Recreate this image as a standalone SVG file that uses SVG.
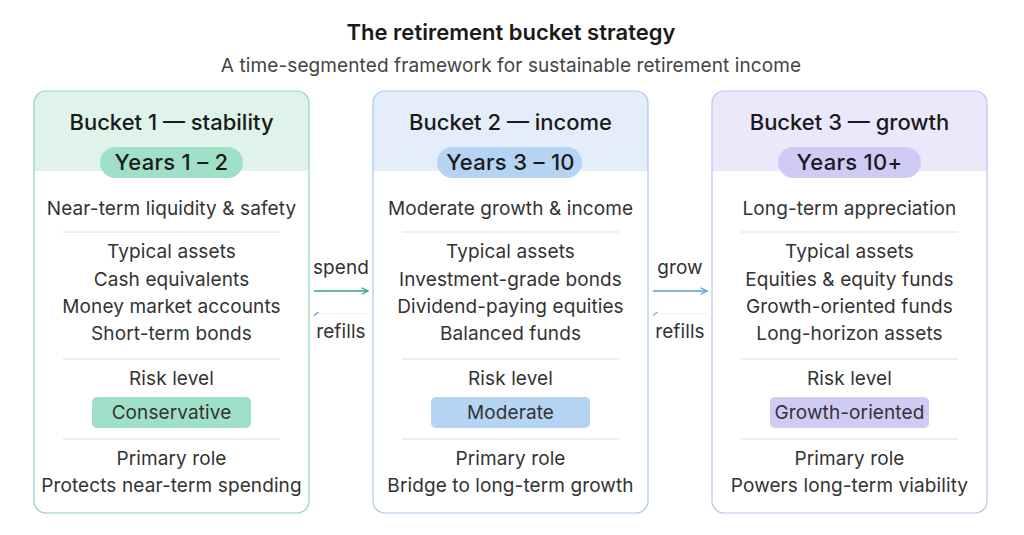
<svg xmlns="http://www.w3.org/2000/svg" width="1024" height="535" viewBox="0 0 1024 535">
<style>
text{font-family:Inter,"Noto Sans","Liberation Sans",sans-serif;text-anchor:middle}
.title{font-size:22px;font-weight:600;fill:#1a1a1a}
.sub{font-size:19px;fill:#444;letter-spacing:0.1px}
.head{font-size:22px;font-weight:500;fill:#1a1a1a}
.pill{font-size:22px;font-weight:500;fill:#1a1a1a;letter-spacing:0.3px}
.body{font-size:19px;fill:#333;letter-spacing:0.1px}
.lbl{font-size:19px;fill:#333;letter-spacing:0.1px}
.div{stroke-width:1}
</style>
<defs>
<marker id="ag" viewBox="0 0 10 10" refX="9" refY="5" markerWidth="8" markerHeight="8" orient="auto" markerUnits="userSpaceOnUse"><path d="M1,1 L9,5 L1,9" fill="none" stroke="#3aa57a" stroke-width="1.6"/></marker>
<marker id="ab" viewBox="0 0 10 10" refX="9" refY="5" markerWidth="8" markerHeight="8" orient="auto" markerUnits="userSpaceOnUse"><path d="M1,1 L9,5 L1,9" fill="none" stroke="#5a9be0" stroke-width="1.6"/></marker>
<clipPath id="c1"><rect x="34" y="91" width="275" height="422" rx="12"/></clipPath>
<clipPath id="c2"><rect x="373" y="91" width="275" height="422" rx="12"/></clipPath>
<clipPath id="c3"><rect x="712" y="91" width="275" height="422" rx="12"/></clipPath>
</defs>
<rect width="1024" height="535" fill="#fff"/>
<text class="title" x="511" y="40">The retirement bucket strategy</text>
<text class="sub" x="511" y="72">A time-segmented framework for sustainable retirement income</text>

<g id="bucket1">
<rect x="34" y="91" width="275" height="422" rx="12" fill="#fff"/>
<rect x="34" y="91" width="275" height="80" fill="#dff3eb" clip-path="url(#c1)"/>
<rect x="34" y="91" width="275" height="422" rx="12" fill="none" stroke="#92d5b8" stroke-width="1.2"/>
<text class="head" x="171.5" y="130">Bucket 1 — stability</text>
<rect x="100" y="147" width="143" height="31" rx="15.5" fill="#a0e0c8"/>
<text class="pill" x="171.5" y="170">Years 1 – 2</text>
<text class="body" x="171.5" y="215">Near-term liquidity &amp; safety</text>
<line class="div" x1="63" y1="232" x2="280" y2="232" stroke="#bfe8d6"/>
<text class="body" x="171.5" y="258">Typical assets</text>
<text class="body" x="171.5" y="286">Cash equivalents</text>
<text class="body" x="171.5" y="313">Money market accounts</text>
<text class="body" x="171.5" y="340">Short-term bonds</text>
<line class="div" x1="63" y1="359" x2="280" y2="359" stroke="#bfe8d6"/>
<text class="body" x="171.5" y="385">Risk level</text>
<rect x="92" y="397" width="159" height="31" rx="5" fill="#a0e0c8"/>
<text class="body" x="171.5" y="419">Conservative</text>
<line class="div" x1="63" y1="439" x2="280" y2="439" stroke="#bfe8d6"/>
<text class="body" x="171.5" y="465">Primary role</text>
<text class="body" x="171.5" y="492">Protects near-term spending</text>
</g>

<g id="bucket2">
<rect x="373" y="91" width="275" height="422" rx="12" fill="#fff"/>
<rect x="373" y="91" width="275" height="80" fill="#e3eefa" clip-path="url(#c2)"/>
<rect x="373" y="91" width="275" height="422" rx="12" fill="none" stroke="#a9c9ee" stroke-width="1.2"/>
<text class="head" x="510.5" y="130">Bucket 2 — income</text>
<rect x="437" y="147" width="145" height="31" rx="15.5" fill="#b5d3f2"/>
<text class="pill" x="510.5" y="170">Years 3 – 10</text>
<text class="body" x="510.5" y="215">Moderate growth &amp; income</text>
<line class="div" x1="402" y1="232" x2="619" y2="232" stroke="#cfe1f5"/>
<text class="body" x="510.5" y="258">Typical assets</text>
<text class="body" x="510.5" y="286">Investment-grade bonds</text>
<text class="body" x="510.5" y="313">Dividend-paying equities</text>
<text class="body" x="510.5" y="340">Balanced funds</text>
<line class="div" x1="402" y1="359" x2="619" y2="359" stroke="#cfe1f5"/>
<text class="body" x="510.5" y="385">Risk level</text>
<rect x="431" y="397" width="159" height="31" rx="5" fill="#b5d3f2"/>
<text class="body" x="510.5" y="419">Moderate</text>
<line class="div" x1="402" y1="439" x2="619" y2="439" stroke="#cfe1f5"/>
<text class="body" x="510.5" y="465">Primary role</text>
<text class="body" x="510.5" y="492">Bridge to long-term growth</text>
</g>

<g id="bucket3">
<rect x="712" y="91" width="275" height="422" rx="12" fill="#fff"/>
<rect x="712" y="91" width="275" height="80" fill="#ebe8fb" clip-path="url(#c3)"/>
<rect x="712" y="91" width="275" height="422" rx="12" fill="none" stroke="#c4bdf0" stroke-width="1.2"/>
<text class="head" x="849.5" y="130">Bucket 3 — growth</text>
<rect x="778" y="147" width="143" height="31" rx="15.5" fill="#d0cbf5"/>
<text class="pill" x="849.5" y="170">Years 10+</text>
<text class="body" x="849.5" y="215">Long-term appreciation</text>
<line class="div" x1="741" y1="232" x2="958" y2="232" stroke="#dcd8f7"/>
<text class="body" x="849.5" y="258">Typical assets</text>
<text class="body" x="849.5" y="286">Equities &amp; equity funds</text>
<text class="body" x="849.5" y="313">Growth-oriented funds</text>
<text class="body" x="849.5" y="340">Long-horizon assets</text>
<line class="div" x1="741" y1="359" x2="958" y2="359" stroke="#dcd8f7"/>
<text class="body" x="849.5" y="385">Risk level</text>
<rect x="770" y="397" width="159" height="31" rx="5" fill="#d0cbf5"/>
<text class="body" x="849.5" y="419">Growth-oriented</text>
<line class="div" x1="741" y1="439" x2="958" y2="439" stroke="#dcd8f7"/>
<text class="body" x="849.5" y="465">Primary role</text>
<text class="body" x="849.5" y="492">Powers long-term viability</text>
</g>

<g id="connectors">
<text class="lbl" x="341" y="274">spend</text>
<line x1="314" y1="291" x2="368" y2="291" stroke="#3aa57a" stroke-width="1.6" marker-end="url(#ag)"/>
<line x1="318" y1="313.5" x2="368" y2="313.5" stroke="#eef2f6" stroke-width="1"/>
<line x1="314" y1="315.5" x2="318.5" y2="312" stroke="#5a9be0" stroke-width="1.4"/>
<text class="lbl" x="341" y="338">refills</text>
<text class="lbl" x="680" y="274">grow</text>
<line x1="653" y1="291" x2="707" y2="291" stroke="#5a9be0" stroke-width="1.6" marker-end="url(#ab)"/>
<line x1="657" y1="313.5" x2="707" y2="313.5" stroke="#eeedf8" stroke-width="1"/>
<line x1="653" y1="315.5" x2="657.5" y2="312" stroke="#a79be8" stroke-width="1.4"/>
<text class="lbl" x="680" y="338">refills</text>
</g>
</svg>
